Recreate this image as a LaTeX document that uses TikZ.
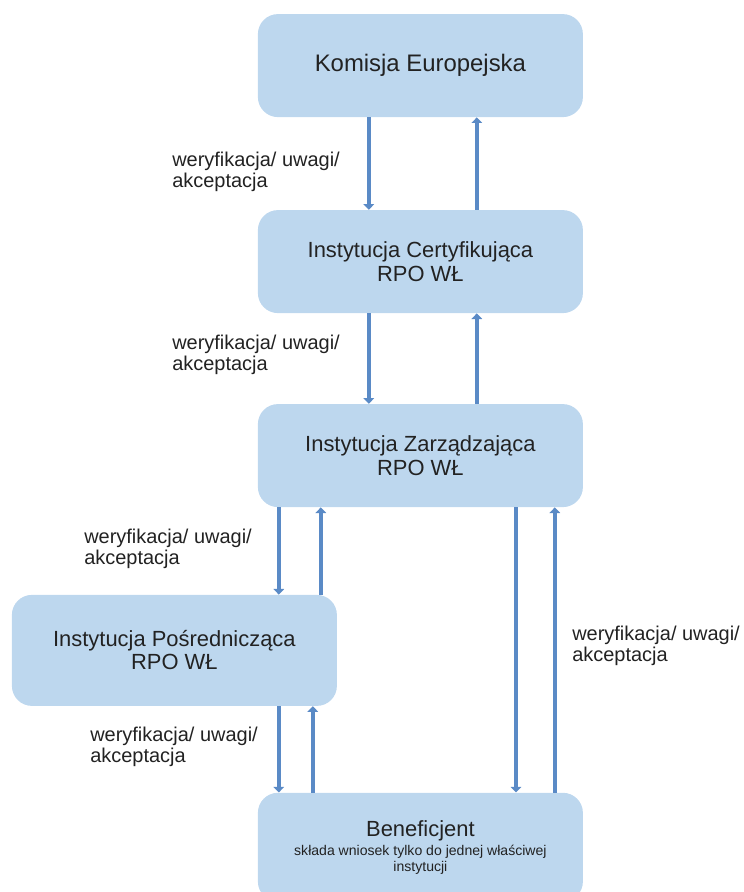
\documentclass[tikz,border=0pt]{standalone}
\usepackage{fontspec}
\setmainfont{Liberation Sans}
\usetikzlibrary{shapes,arrows.meta,positioning,calc}
\usepackage{xcolor}
\definecolor{boxfill}{HTML}{BDD7EE}
\definecolor{flowline}{HTML}{5A8AC6}
\definecolor{txtgray}{HTML}{222222}

\begin{document}
\begin{tikzpicture}[every node/.style={text=txtgray}]
    \tikzstyle{instytucja} = [rectangle, rounded corners=0.5cm, fill=boxfill, align=center, minimum width=8.125cm, minimum height=2.575cm, font=\fontsize{15.6}{16.5}\selectfont]
    \tikzstyle{opis} = [anchor=west, align=left, inner sep=0pt, font=\fontsize{14.2}{14.6}\selectfont]
    \tikzstyle{przeplyw} = [draw=flowline, line width=2.8pt, -{Triangle[length=4pt,width=7.5pt]}]

    \useasboundingbox (0,0) rectangle (18.6,22.3);

    % Instytucje
    \node[instytucja, font=\fontsize{17}{18}\selectfont] (ke) at (10.51,20.66) {Komisja Europejska};
    \node[instytucja] (ic) at (10.51,15.76) {Instytucja Certyfikująca\\RPO WŁ};
    \node[instytucja] (iz) at (10.51,10.91) {Instytucja Zarządzająca\\RPO WŁ};
    \node[instytucja, minimum height=2.775cm] (ip) at (4.36,6.04) {Instytucja Pośrednicząca\\RPO WŁ};
    \node[instytucja, minimum height=2.72cm, font=\fontsize{10}{11.4}\selectfont] (ben) at (10.51,1.12) {{\fontsize{15.6}{16.5}\selectfont Beneficjent}\\[2pt]składa wniosek tylko do jednej właściwej\\instytucji};

    % Opisy
    \node[opis] (o1) at (4.3,18.0) {weryfikacja/ uwagi/\\akceptacja};
    \node[opis] (o2) at (4.3,13.43) {weryfikacja/ uwagi/\\akceptacja};
    \node[opis] (o3) at (2.1,8.58) {weryfikacja/ uwagi/\\akceptacja};
    \node[opis] (o4) at (14.3,6.15) {weryfikacja/ uwagi/\\akceptacja};
    \node[opis] (o5) at (2.25,3.63) {weryfikacja/ uwagi/\\akceptacja};

    % Zwiazki
    \draw[przeplyw] ([xshift=-1.29cm]ke.south) -- ([xshift=-1.29cm]ic.north);
    \draw[przeplyw] ([xshift=1.41cm]ic.north) -- ([xshift=1.41cm]ke.south);

    \draw[przeplyw] ([xshift=-1.29cm]ic.south) -- ([xshift=-1.29cm]iz.north);
    \draw[przeplyw] ([xshift=1.41cm]iz.north) -- ([xshift=1.41cm]ic.south);

    \draw[przeplyw] ([xshift=-3.54cm]iz.south) -- ([xshift=-3.54cm]iz.south |- ip.north);
    \draw[przeplyw] ([xshift=-2.49cm]iz.south |- ip.north) -- ([xshift=-2.49cm]iz.south);

    \draw[przeplyw] ([xshift=2.39cm]iz.south) -- ([xshift=2.39cm]ben.north);
    \draw[przeplyw] ([xshift=3.36cm]ben.north) -- ([xshift=3.36cm]iz.south);

    \draw[przeplyw] ([xshift=2.61cm]ip.south) -- ([xshift=2.61cm]ip.south |- ben.north);
    \draw[przeplyw] ([xshift=3.46cm]ip.south |- ben.north) -- ([xshift=3.46cm]ip.south);
\end{tikzpicture}
\end{document}
